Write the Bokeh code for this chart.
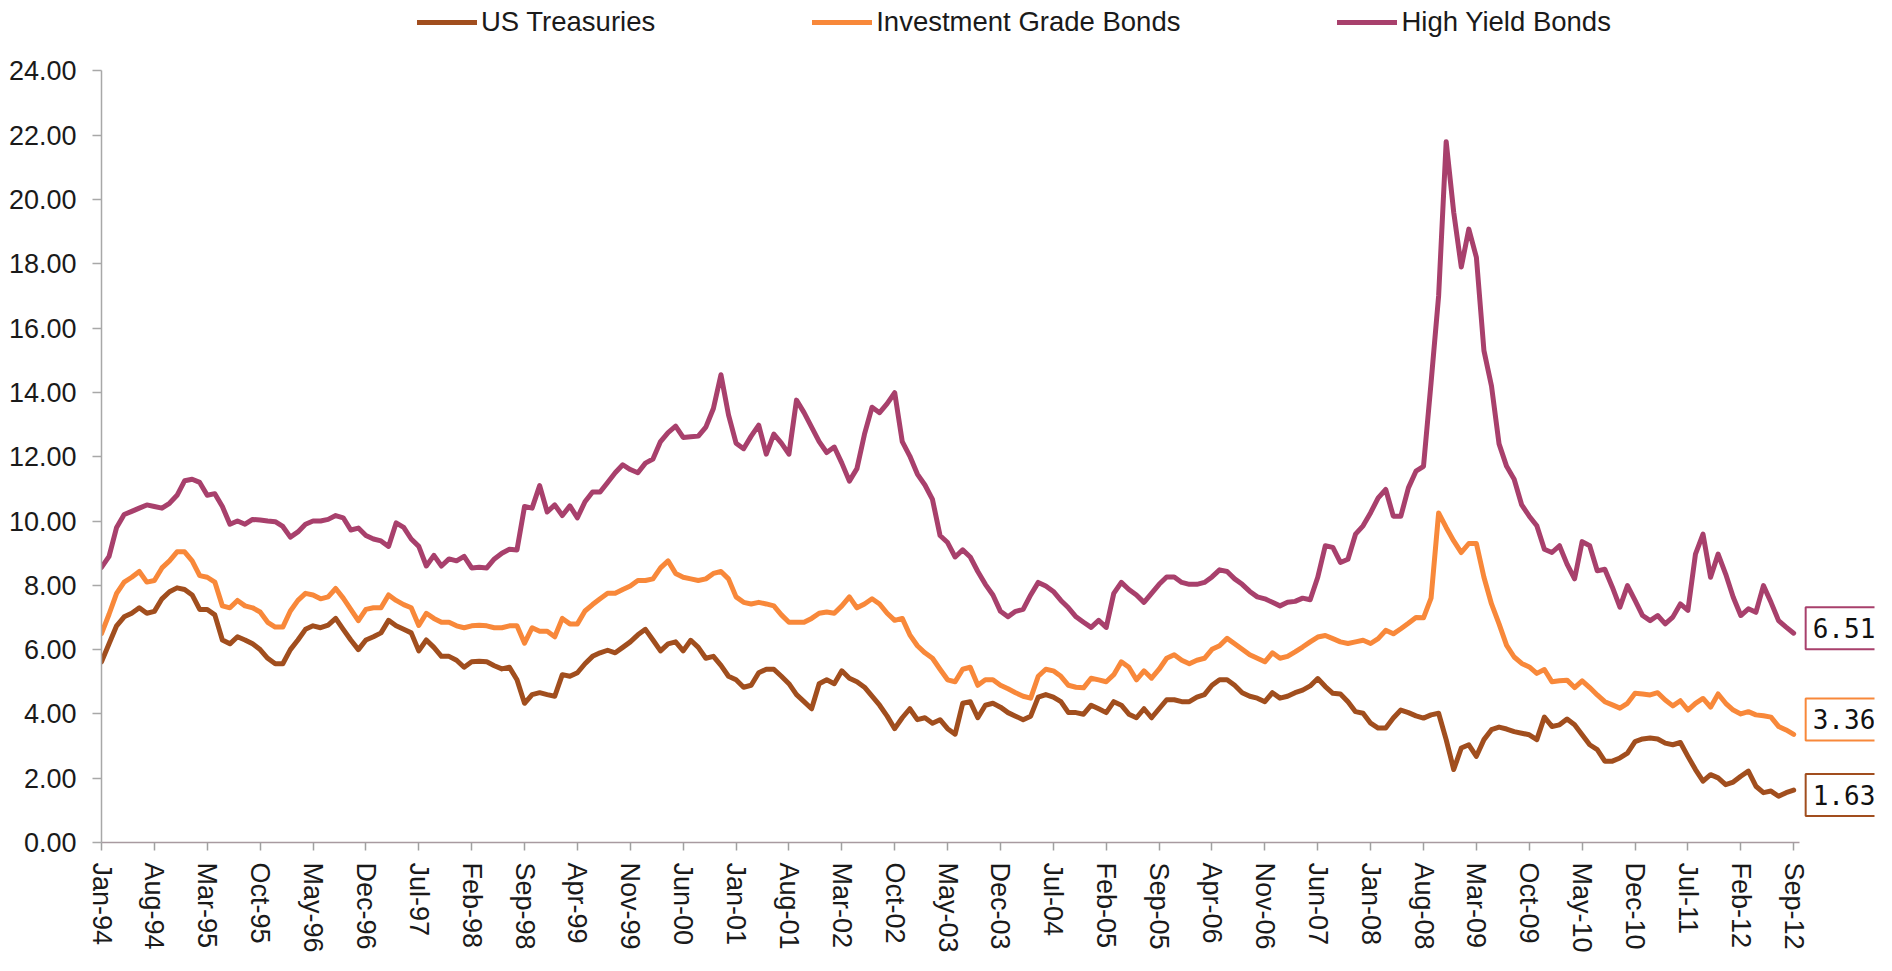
import math
import pandas as pd
from bokeh.plotting import figure
from bokeh.models import (FixedTicker, PrintfTickFormatter, Legend, LegendItem, Label)
from bokeh.embed import file_html
from bokeh.resources import INLINE

# ---------------- data (monthly, Jan-94 .. Sep-12) ----------------
month_labels = list(pd.date_range("1994-01-01", periods=225, freq="MS").strftime("%b-%y"))
month_idx = list(range(len(month_labels)))

us_treasuries = [
    5.62, 6.18, 6.74, 7.02, 7.13, 7.30, 7.13, 7.19, 7.58, 7.80, 7.92, 7.87,
    7.70, 7.25, 7.25, 7.08, 6.30, 6.18, 6.40, 6.30, 6.18, 6.00, 5.73, 5.56,
    5.56, 6.00, 6.30, 6.63, 6.74, 6.68, 6.76, 6.97, 6.63, 6.30, 6.00, 6.30,
    6.40, 6.52, 6.91, 6.74, 6.63, 6.52, 5.96, 6.30, 6.07, 5.79, 5.79, 5.67,
    5.45, 5.62, 5.64, 5.62, 5.50, 5.40, 5.45, 5.06, 4.33, 4.60, 4.66, 4.60,
    4.55, 5.22, 5.17, 5.28, 5.56, 5.79, 5.90, 5.98, 5.90, 6.07, 6.24, 6.46,
    6.63, 6.30, 5.96, 6.18, 6.24, 5.96, 6.29, 6.07, 5.73, 5.79, 5.51, 5.17,
    5.06, 4.83, 4.89, 5.28, 5.39, 5.39, 5.17, 4.94, 4.60, 4.38, 4.16, 4.94,
    5.06, 4.94, 5.34, 5.11, 5.00, 4.83, 4.55, 4.27, 3.93, 3.54, 3.88, 4.16,
    3.82, 3.88, 3.71, 3.82, 3.54, 3.37, 4.33, 4.38, 3.88, 4.27, 4.33, 4.21,
    4.04, 3.93, 3.82, 3.93, 4.52, 4.60, 4.52, 4.38, 4.04, 4.04, 3.99, 4.27,
    4.16, 4.04, 4.38, 4.27, 3.99, 3.88, 4.16, 3.88, 4.16, 4.44, 4.44, 4.38,
    4.38, 4.52, 4.60, 4.89, 5.06, 5.06, 4.89, 4.66, 4.55, 4.49, 4.38, 4.66,
    4.49, 4.55, 4.66, 4.74, 4.87, 5.10, 4.85, 4.64, 4.62, 4.38, 4.07, 4.02,
    3.71, 3.56, 3.56, 3.87, 4.12, 4.04, 3.94, 3.87, 3.97, 4.02, 3.20, 2.27,
    2.94, 3.04, 2.68, 3.20, 3.51, 3.59, 3.53, 3.45, 3.40, 3.35, 3.20, 3.90,
    3.61, 3.66, 3.84, 3.66, 3.35, 3.04, 2.89, 2.53, 2.53, 2.63, 2.78, 3.14,
    3.22, 3.25, 3.22, 3.09, 3.04, 3.11, 2.68, 2.27, 1.91, 2.11, 2.01, 1.80,
    1.88, 2.06, 2.22, 1.75, 1.55, 1.60, 1.44, 1.55, 1.63,
]

investment_grade = [
    6.50, 7.10, 7.75, 8.10, 8.25, 8.43, 8.10, 8.15, 8.54, 8.76, 9.04, 9.04,
    8.76, 8.30, 8.25, 8.10, 7.36, 7.30, 7.53, 7.36, 7.30, 7.17, 6.85, 6.70,
    6.70, 7.20, 7.53, 7.75, 7.70, 7.58, 7.64, 7.90, 7.60, 7.25, 6.90, 7.25,
    7.30, 7.30, 7.70, 7.53, 7.40, 7.30, 6.75, 7.13, 6.97, 6.85, 6.85, 6.74,
    6.68, 6.74, 6.76, 6.74, 6.68, 6.68, 6.74, 6.74, 6.20, 6.68, 6.57, 6.57,
    6.40, 6.97, 6.80, 6.80, 7.20, 7.40, 7.58, 7.75, 7.75, 7.87, 7.98, 8.15,
    8.15, 8.20, 8.54, 8.76, 8.37, 8.25, 8.20, 8.15, 8.20, 8.37, 8.43, 8.20,
    7.64, 7.47, 7.42, 7.47, 7.42, 7.36, 7.08, 6.85, 6.85, 6.85, 6.97, 7.13,
    7.17, 7.13, 7.36, 7.64, 7.30, 7.42, 7.58, 7.42, 7.13, 6.91, 6.97, 6.46,
    6.12, 5.90, 5.73, 5.39, 5.06, 5.00, 5.39, 5.45, 4.89, 5.06, 5.06, 4.89,
    4.78, 4.66, 4.55, 4.49, 5.17, 5.39, 5.34, 5.17, 4.89, 4.83, 4.81, 5.11,
    5.06, 5.00, 5.22, 5.62, 5.45, 5.06, 5.34, 5.11, 5.39, 5.73, 5.84, 5.67,
    5.56, 5.67, 5.73, 6.01, 6.12, 6.35, 6.18, 6.01, 5.84, 5.73, 5.62, 5.90,
    5.73, 5.79, 5.93, 6.08, 6.24, 6.39, 6.44, 6.34, 6.24, 6.19, 6.24, 6.29,
    6.19, 6.34, 6.60, 6.49, 6.65, 6.82, 7.00, 6.99, 7.60, 10.25, 9.80, 9.38,
    9.02, 9.30, 9.30, 8.25, 7.42, 6.80, 6.13, 5.77, 5.57, 5.46, 5.26, 5.38,
    5.00, 5.03, 5.05, 4.82, 5.03, 4.82, 4.59, 4.38, 4.28, 4.18, 4.33, 4.64,
    4.62, 4.59, 4.66, 4.43, 4.25, 4.41, 4.12, 4.33, 4.48, 4.21, 4.62, 4.33,
    4.12, 4.00, 4.07, 3.97, 3.94, 3.90, 3.61, 3.50, 3.36,
]

high_yield = [
    8.56, 8.90, 9.80, 10.20, 10.30, 10.40, 10.50, 10.45, 10.40, 10.55, 10.80, 11.25,
    11.30, 11.20, 10.80, 10.85, 10.45, 9.90, 10.00, 9.90, 10.05, 10.03, 10.00, 9.98,
    9.83, 9.50, 9.66, 9.90, 10.00, 10.00, 10.05, 10.17, 10.10, 9.72, 9.78, 9.55,
    9.44, 9.38, 9.21, 9.94, 9.80, 9.44, 9.21, 8.60, 8.93, 8.60, 8.82, 8.76,
    8.90, 8.54, 8.56, 8.54, 8.82, 9.00, 9.12, 9.10, 10.45, 10.40, 11.10, 10.28,
    10.50, 10.17, 10.47, 10.10, 10.60, 10.90, 10.90, 11.20, 11.50, 11.75, 11.60, 11.50,
    11.80, 11.93, 12.47, 12.75, 12.95, 12.60, 12.62, 12.64, 12.92, 13.50, 14.55, 13.30,
    12.42, 12.25, 12.64, 12.98, 12.08, 12.70, 12.42, 12.08, 13.76, 13.37, 12.92, 12.47,
    12.13, 12.30, 11.80, 11.24, 11.63, 12.70, 13.54, 13.37, 13.65, 13.99, 12.47, 12.02,
    11.46, 11.12, 10.67, 9.55, 9.33, 8.88, 9.10, 8.88, 8.43, 8.03, 7.70, 7.19,
    7.02, 7.19, 7.25, 7.70, 8.09, 7.98, 7.81, 7.53, 7.30, 7.02, 6.85, 6.69,
    6.91, 6.69, 7.75, 8.09, 7.87, 7.70, 7.47, 7.75, 8.03, 8.26, 8.26, 8.09,
    8.03, 8.03, 8.09, 8.26, 8.48, 8.43, 8.20, 8.03, 7.81, 7.64, 7.58, 7.47,
    7.36, 7.47, 7.50, 7.60, 7.55, 8.25, 9.23, 9.18, 8.71, 8.81, 9.59, 9.85,
    10.26, 10.72, 10.98, 10.15, 10.15, 11.03, 11.55, 11.70, 14.30, 17.00, 21.80, 19.60,
    17.90, 19.08, 18.20, 15.30, 14.20, 12.40, 11.70, 11.30, 10.50, 10.15, 9.85, 9.12,
    9.02, 9.23, 8.66, 8.20, 9.36, 9.23, 8.45, 8.50, 7.94, 7.32, 7.99, 7.53,
    7.06, 6.90, 7.06, 6.80, 7.01, 7.42, 7.22, 8.97, 9.59, 8.25, 8.97, 8.35,
    7.63, 7.06, 7.27, 7.16, 7.99, 7.47, 6.90, 6.70, 6.51,
]

series_names = ["US Treasuries", "Investment Grade Bonds", "High Yield Bonds"]
series_values = [us_treasuries, investment_grade, high_yield]
series_colors = ["#A14E1E", "#F8883A", "#A8406C"]
label_y_offsets = [-5, 15, 5]   # pixel nudges of the end-value boxes

y_ticks = list(range(0, 25, 2))
y_axis_max = 24
x_axis_max = 224.8
x_tick_step = 7

# ---------------- figure ----------------
# The frame is extended (right and top) so that the legend and the end-value
# boxes, which sit outside the axes, are not clipped; the axis lines are
# bounded to the data area.
FONT = "Liberation Sans"
p = figure(width=1876, height=955,
           x_range=(0, 234.7), y_range=(0, 26.19),
           output_backend="svg", toolbar_location=None,
           min_border_left=101, min_border_right=2,
           min_border_top=0, min_border_bottom=108)
p.outline_line_color = None
p.xgrid.grid_line_color = None
p.ygrid.grid_line_color = None
p.background_fill_color = "white"
p.border_fill_color = "white"

renderers = []
for name, vals, col in zip(series_names, series_values, series_colors):
    r = p.line(month_idx, vals, line_color=col, line_width=5,
               line_join="round", line_cap="round")
    renderers.append(r)

# axes
ax = p.xaxis[0]
ax.bounds = (0, x_axis_max)
ax.ticker = FixedTicker(ticks=list(range(0, len(month_labels), x_tick_step)))
ax.major_label_overrides = {i: month_labels[i] for i in range(0, len(month_labels), x_tick_step)}
ax.major_label_orientation = -math.pi / 2
ax.major_label_text_font = FONT
ax.major_label_text_font_size = "27px"
ax.major_label_text_color = "#1a1a1a"
ax.major_label_standoff = 12
ax.major_tick_out = 8
ax.major_tick_in = 0
ax.minor_tick_out = 0
ax.minor_tick_in = 0
ax.axis_line_color = "#a89aa0"
ax.axis_line_width = 1.5
ax.major_tick_line_color = "#a0a0a0"
ax.major_tick_line_width = 1.5

ay = p.yaxis[0]
ay.bounds = (0, y_axis_max)
ay.ticker = FixedTicker(ticks=y_ticks)
ay.formatter = PrintfTickFormatter(format="%.2f")
ay.major_label_text_font = FONT
ay.major_label_text_font_size = "27px"
ay.major_label_text_color = "#1a1a1a"
ay.major_label_standoff = 16
ay.major_tick_out = 9
ay.major_tick_in = 0
ay.minor_tick_out = 0
ay.minor_tick_in = 0
ay.axis_line_color = "#a8a8a8"
ay.axis_line_width = 1.5
ay.major_tick_line_color = "#a8a8a8"
ay.major_tick_line_width = 1.5

# legend (above the data area)
legend = Legend(items=[LegendItem(label=n, renderers=[r]) for n, r in zip(series_names, renderers)],
                orientation="horizontal", location=(316, 804),
                glyph_width=60, glyph_height=20, label_standoff=4, spacing=157,
                padding=0, margin=0, border_line_color=None,
                background_fill_alpha=0.0,
                label_text_font=FONT, label_text_font_size="27.5px",
                label_text_color="#1a1a1a")
p.add_layout(legend, "center")

# end-value boxes
for vals, col, dy in zip(series_values, series_colors, label_y_offsets):
    lab = Label(x=month_idx[-1], y=vals[-1], text=f"{vals[-1]:.2f}",
                x_units="data", y_units="data",
                x_offset=12, y_offset=dy,
                text_align="left", text_baseline="middle",
                text_font="DejaVu Sans Mono", text_font_size="26px",
                text_color="#111111",
                border_line_color=col, border_line_width=2,
                background_fill_color="white", padding=(7, 11))
    p.add_layout(lab)

open("out.html", "w").write(file_html(p, INLINE))
